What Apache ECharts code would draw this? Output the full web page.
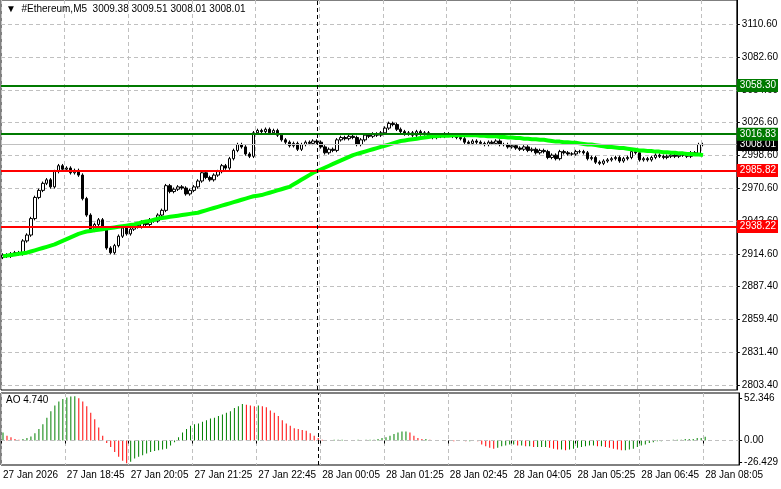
<!DOCTYPE html>
<html><head><meta charset="utf-8">
<script src="https://cdn.jsdelivr.net/npm/echarts@6/dist/echarts.min.js"></script>
<style>html,body{margin:0;padding:0;background:#fff}#chart-container{width:781px;height:489px}</style>
</head><body><div id="chart-container"></div>
<script>
// closes of the M5 bars, 27 Jan 17:25 .. 28 Jan 08:05
const closes = [
  2914, 2913, 2915, 2916, 2915, 2926, 2931, 2945, 2963, 2969, 2975, 2978,
  2972, 2985, 2990, 2987, 2988, 2984, 2986, 2982, 2962, 2948, 2935, 2940,
  2944, 2936, 2920, 2916, 2922, 2930, 2937, 2932, 2936, 2939, 2938, 2942,
  2940, 2944, 2943, 2948, 2952, 2973, 2968, 2970, 2972, 2971, 2966, 2969,
  2972, 2977, 2984, 2980, 2978, 2982, 2985, 2990, 2988, 2996, 3003, 3008,
  3006, 3000, 2998, 3018, 3020, 3019, 3021, 3018, 3020, 3016, 3012, 3010,
  3007, 3009, 3004, 3008, 3010, 3009, 3011, 3010, 3006, 3001, 3004, 3003,
  3012, 3014, 3013, 3015, 3014, 3008, 3012, 3016, 3015, 3017, 3016, 3018,
  3022, 3026, 3025, 3021, 3019, 3017, 3018, 3016, 3019, 3017, 3018, 3015,
  3014, 3016, 3015, 3017, 3016, 3015, 3014, 3013, 3010, 3009, 3011, 3010,
  3009, 3008, 3010, 3009, 3011, 3008, 3008, 3006, 3007, 3005, 3004, 3006,
  3003, 3004, 3001, 3003, 3002, 2997, 2999, 2996, 3002, 3001, 3000, 3000,
  3002, 3002, 3001, 2996, 2997, 2993, 2992, 2994, 2995, 2996, 2997, 2994,
  2996, 2997, 3002, 3001, 2995, 2996, 2995, 2997, 2999, 2998, 2997, 2998,
  2999, 2998, 2999, 2999, 2998, 3001, 3000, 3008, 3008.01
];
const firstOpen = 2912;

const maValues = [
  2913, 2913.5, 2914, 2914.5, 2915, 2915.5, 2916, 2917, 2918, 2919,
  2920, 2921, 2922, 2923, 2924.5, 2926, 2927.5, 2929, 2930.5, 2932,
  2933, 2934, 2934.5, 2935, 2935.5, 2936, 2936.5, 2937, 2937.5, 2938,
  2938.5, 2939, 2939.5, 2940, 2941, 2942, 2942.5, 2943, 2944, 2945,
  2945.5, 2946, 2946.5, 2947, 2947.5, 2948, 2948.5, 2949, 2949.5, 2950,
  2951, 2952, 2953, 2954, 2955, 2956, 2957, 2958, 2959, 2960,
  2961, 2962, 2963, 2964, 2964.5, 2965, 2966, 2967, 2968, 2969,
  2970, 2971, 2972, 2974, 2976, 2978, 2980, 2982, 2984, 2985.5,
  2987, 2988.5, 2990, 2991.5, 2993, 2994.5, 2996, 2997.5, 2999, 3000,
  3001, 3002, 3003, 3004, 3005, 3006, 3007, 3008, 3009, 3010,
  3011, 3011.5, 3012, 3012.5, 3013, 3013.5, 3014, 3014.5, 3015, 3015,
  3015.5, 3015.5, 3015.5, 3016, 3016, 3016, 3016, 3016, 3016, 3016,
  3015.5, 3015.5, 3015, 3015, 3015, 3014.5, 3014.5, 3014, 3014, 3013.5,
  3013.5, 3013, 3013, 3012.5, 3012.5, 3012, 3012, 3011.5, 3011, 3010.5,
  3010.5, 3010, 3010, 3009.5, 3009.5, 3009, 3008.5, 3008, 3008, 3007.5,
  3007, 3006.5, 3006, 3006, 3005.5, 3005, 3005, 3004.5, 3004, 3003.5,
  3003, 3003, 3002.5, 3002.5, 3002, 3002, 3001.5, 3001.5, 3001, 3001,
  3000.5, 3000.5, 3000, 3000, 2999.5, 2999.5, 2999
];

const aoValues = [
  10, 6, 4, 2, 1, 2, 3, 5, 9, 14,
  20, 28, 36, 43, 48, 51, 53, 54, 54.5, 52,
  48, 42, 34, 26, 16, 6, -3, -8, -14, -20,
  -25, -28, -26, -22, -20, -18, -16, -14, -13, -12,
  -11, -10, -6, -2, 4, 10, 14, 18, 20, 21,
  23, 25, 27, 28, 30, 32, 34, 36, 40, 42,
  45, 44, 43, 42, 43, 42, 41, 37, 34, 30,
  25, 21, 18, 15, 14, 13, 12, 9, 6, 3,
  1, 0, 0, 1, 1, 1, 0, 0, 0, 1,
  0, 1, 1, 1, 2, 3, 4, 6, 8, 10,
  11, 11, 10, 6, 3, 2, 2, 1, 0, 0,
  0, 0, 0, -1, 0, 0, -1, -1, 0, -1,
  -5, -7, -9, -10, -9, -7, -6, -5, -5, -6,
  -6, -7, -7, -8, -8, -8, -8, -9, -10, -11,
  -11, -12, -11, -10, -9, -8, -7, -6, -6, -7,
  -7, -8, -9, -10, -11, -12, -12, -11, -10, -8,
  -6, -5, -3, -2, -1, -1, 0, 0, 1, 1,
  1, 2, 2, 2, 3, 3, 4.74
];

const timeLabels = ['27 Jan 2026', '27 Jan 18:45', '27 Jan 20:05', '27 Jan 21:25', '27 Jan 22:45',
  '28 Jan 00:05', '28 Jan 01:25', '28 Jan 02:45', '28 Jan 04:05', '28 Jan 05:25',
  '28 Jan 06:45', '28 Jan 08:05'];
const priceTicks = [3110.60, 3082.60, 3054.60, 3026.60, 2998.60, 2970.60, 2942.60,
  2914.60, 2887.40, 2859.40, 2831.40, 2803.40];
const aoTicks = [52.346, 0, -26.429];
const greenLevels = [3058.30, 3016.83];
const redLevels = [2985.82, 2938.22];
const lastPrice = 3008.01;

const barsPerLabel = 16;
const totalSlots = 185;
const categories = [];
for (let i = 0; i < totalSlots; i++) {
  categories.push(i % barsPerLabel === 0 ? (timeLabels[i / barsPerLabel] || '') : '');
}

const candles = closes.map((c, i) => {
  const o = i === 0 ? firstOpen : closes[i - 1];
  return [o, c, Math.min(o, c) - 1.5, Math.max(o, c) + 1.5];
});
const aoData = aoValues.map((v, i) => ({
  value: v,
  itemStyle: { color: i > 0 && v < aoValues[i - 1] ? '#ff0000' : '#008000' }
}));

const font = 'Liberation Sans';
const gray = '#c0c0c0';

const levelLine = (v, col) => ({
  yAxis: v,
  lineStyle: { color: col, type: 'solid', width: 2 },
  label: {
    show: true, position: 'end', distance: 0, formatter: v.toFixed(2),
    backgroundColor: col, color: '#fff', padding: [2, 2, 1, 3], fontSize: 10, fontFamily: font
  }
});

let myChart = echarts.init(document.getElementById('chart-container'), null, { renderer: 'canvas' });

let option = {
  animation: false,
  backgroundColor: '#fff',
  graphic: [
    { type: 'text', left: 6, top: 4, style: { text: '▼  #Ethereum,M5  3009.38 3009.51 3008.01 3008.01', font: '10px ' + font, fill: '#000' } },
    { type: 'text', left: 6, top: 395, style: { text: 'AO 4.740', font: '10px ' + font, fill: '#000' } }
  ],
  grid: [
    { left: 1, right: 41, top: 0, height: 390, show: true, borderColor: '#000', borderWidth: 1 },
    { left: 1, right: 41, top: 393, height: 72, show: true, borderColor: '#000', borderWidth: 1 }
  ],
  xAxis: [0, 1].map(g => ({
    type: 'category', gridIndex: g, data: categories, boundaryGap: true,
    axisLine: { show: false }, axisTick: { show: g === 1, interval: barsPerLabel - 1, length: 3, lineStyle: { color: '#000' } },
    axisLabel: {
      show: g === 1, interval: barsPerLabel - 1, align: 'left', margin: 5,
      fontSize: 10, fontFamily: font, color: '#000'
    },
    splitLine: { show: true, interval: barsPerLabel - 1, lineStyle: { color: gray, type: [4, 3] } }
  })),
  yAxis: [
    {
      type: 'value', gridIndex: 0, position: 'right', min: 2799.15, max: 3131.0,
      axisLine: { show: true, lineStyle: { color: '#000' } },
      axisTick: { show: true, length: 3, customValues: priceTicks, lineStyle: { color: '#000' } },
      axisLabel: { customValues: priceTicks, formatter: v => v.toFixed(2), fontSize: 10, fontFamily: font, color: '#000', margin: 5 },
      splitLine: { show: true, lineStyle: { color: gray, type: [4, 3] } },
      splitNumber: 12
    },
    {
      type: 'value', gridIndex: 1, position: 'right', min: -30.1, max: 58.4,
      axisLine: { show: true, lineStyle: { color: '#000' } },
      axisTick: { show: true, length: 3, customValues: aoTicks, lineStyle: { color: '#000' } },
      axisLabel: { customValues: aoTicks, formatter: v => v === 0 ? '0.00' : v.toFixed(3), fontSize: 10, fontFamily: font, color: '#000', margin: 5 },
      splitLine: { show: false }
    }
  ],
  series: [
    {
      type: 'candlestick', xAxisIndex: 0, yAxisIndex: 0, data: candles, barWidth: 3,
      itemStyle: { color: '#fff', color0: '#000', borderColor: '#000', borderColor0: '#000', borderWidth: 1 },
      markLine: {
        symbol: 'none', silent: true, animation: false,
        data: [
          {
            yAxis: lastPrice, lineStyle: { color: gray, type: 'solid', width: 1 },
            label: { show: true, position: 'end', distance: 0, formatter: lastPrice.toFixed(2), backgroundColor: '#000', color: '#fff', padding: [2, 2, 1, 3], fontSize: 10, fontFamily: font }
          },
          ...greenLevels.map(v => levelLine(v, '#007a00')),
          ...redLevels.map(v => levelLine(v, '#ff0000')),
          { xAxis: 79, lineStyle: { color: '#000', type: [4, 3], width: 1 }, label: { show: false } }
        ]
      }
    },
    {
      type: 'line', xAxisIndex: 0, yAxisIndex: 0, data: maValues, showSymbol: false,
      lineStyle: { color: '#00ff00', width: 4 }, z: 3
    },
    {
      type: 'bar', xAxisIndex: 1, yAxisIndex: 1, data: aoData, barWidth: 1,
      markLine: {
        symbol: 'none', silent: true,
        data: [
          { yAxis: 0, lineStyle: { color: gray, type: [4, 3], width: 1 }, label: { show: false } },
          { xAxis: 79, lineStyle: { color: '#000', type: [4, 3], width: 1 }, label: { show: false } }
        ]
      }
    }
  ]
};

myChart.setOption(option);
window.addEventListener('resize', myChart.resize);
</script></body></html>
